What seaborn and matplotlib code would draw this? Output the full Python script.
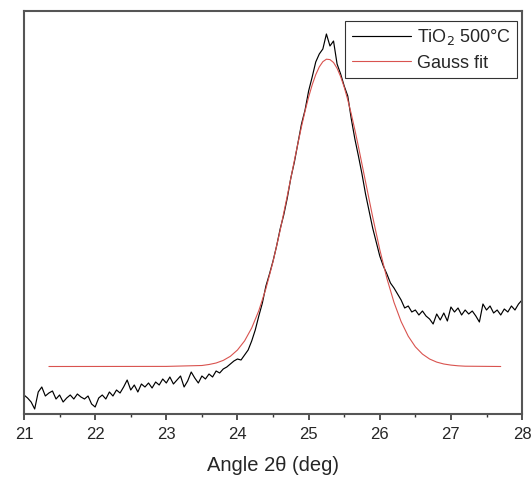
import numpy as np
import pandas as pd
import seaborn as sns
import matplotlib.pyplot as plt
from matplotlib.ticker import MultipleLocator

# measured XRD pattern (arbitrary intensity units), 0.05 deg steps
angle = np.round(np.arange(21.0, 28.0001, 0.05), 2)
intensity = [
    19, 16, 12, 5, 22, 27, 18, 21, 23, 15,
    19, 12, 16, 19, 15, 20, 17, 15, 18, 10,
    7, 16, 19, 15, 22, 18, 24, 21, 27, 34,
    24, 29, 22, 30, 27, 31, 26, 32, 29, 35,
    31, 37, 30, 34, 38, 27, 33, 42, 36, 31,
    38, 35, 40, 37, 43, 41, 45, 47, 50, 53,
    55, 54, 59, 64, 73, 84, 98, 111, 128, 140,
    153, 168, 185, 199, 216, 236, 252, 271, 290, 304,
    323, 337, 352, 360, 365, 380, 368, 373, 350, 340,
    328, 318, 295, 275, 258, 240, 220, 203, 186, 172,
    158, 148, 140, 131, 126, 120, 114, 106, 108, 102,
    104, 99, 103, 98, 95, 90, 100, 94, 101, 93,
    107, 102, 106, 99, 104, 100, 103, 98, 92, 110,
    104, 108, 101, 104, 99, 105, 102, 108, 104, 110,
    114,
]

# Gauss fit curve
fit_angle = [21.35, 23.0, 23.5, 23.6, 23.7, 23.8, 23.9, 24.0, 24.1, 24.2,
             24.3, 24.4, 24.5, 24.6, 24.7, 24.8, 24.85, 24.9, 24.95, 25.0,
             25.05, 25.1, 25.15, 25.2, 25.25, 25.3, 25.35, 25.4, 25.45, 25.5,
             25.55, 25.6, 25.65, 25.7, 25.8, 25.9, 26.0, 26.1, 26.2, 26.3,
             26.4, 26.5, 26.6, 26.7, 26.8, 26.9, 27.0, 27.1, 27.2, 27.7]
fit_intensity = [47.5, 47.6, 48.5, 49.5, 51.0, 53.6, 57.7, 64.0, 73.1, 86.0,
                 103.3, 125.4, 152.4, 183.7, 218.0, 253.5, 270.8, 287.4, 302.9, 316.9,
                 329.1, 339.3, 347.1, 352.3, 354.8, 354.4, 351.5, 345.7, 337.4, 326.9,
                 314.2, 299.9, 284.1, 267.4, 232.2, 197.2, 164.4, 135.6, 111.6, 92.4,
                 77.8, 67.2, 59.9, 55.0, 51.9, 50.0, 48.9, 48.2, 47.8, 47.5]

data = pd.DataFrame({'angle': angle, 'intensity': intensity})
fit = pd.DataFrame({'angle': fit_angle, 'intensity': fit_intensity})

sns.set_style('white')
plt.rcParams['font.family'] = ['Liberation Sans', 'DejaVu Sans']

fig = plt.figure(figsize=(5.31, 4.8), dpi=100)
ax = fig.add_axes([0.0452, 0.1375, 0.938, 0.8396])

sns.lineplot(data=data, x='angle', y='intensity', color='black', lw=0.85,
             estimator=None, sort=False, ax=ax, label='TiO$_2$ 500°C')
sns.lineplot(data=fit, x='angle', y='intensity', color='#d9534f', lw=0.8,
             estimator=None, sort=False, ax=ax, label='Gauss fit')

ax.set_xlim(21, 28)
ax.set_ylim(0, 403)
ax.set_yticks([])
ax.xaxis.set_major_locator(MultipleLocator(1))
ax.xaxis.set_minor_locator(MultipleLocator(0.5))
ax.tick_params(axis='x', which='major', direction='out', length=4.5, width=1.2,
               color='#333333', labelsize=12, pad=5, bottom=True)
ax.tick_params(axis='x', which='minor', direction='out', length=2.5, width=1.0,
               color='#333333', bottom=True)
for side in ['left', 'right', 'top', 'bottom']:
    ax.spines[side].set_visible(True)
    ax.spines[side].set_color('#555555')
    ax.spines[side].set_linewidth(1.5)

ax.set_xlabel('Angle 2θ (deg)', fontsize=14.5, labelpad=10)
ax.set_ylabel('')

leg = ax.legend(loc='upper right', bbox_to_anchor=(0.99, 0.975), frameon=True,
                fancybox=False, fontsize=13, handlelength=3.3, borderaxespad=0,
                borderpad=0.35, labelspacing=0.4, handletextpad=0.3)
leg.get_frame().set_edgecolor('black')
leg.get_frame().set_linewidth(0.8)

plt.savefig('out.png', dpi=100)
